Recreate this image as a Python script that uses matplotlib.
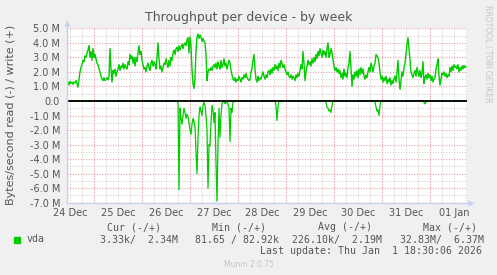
#!/usr/bin/env python
# -*- coding: utf-8 -*-
"""
Munin style "Throughput per device - by week" graph for vda.
"""
import matplotlib
matplotlib.use('Agg')
import numpy as np
import matplotlib.pyplot as plt
from matplotlib.patches import Rectangle

## Data

# One sample every 30 minutes, graph starts 24 Dec 10:30
step_hours = 0.5
first_midnight = 13.5   # hours from start to 25 Dec 00:00
n_days = 8

day_labels = ['24 Dec', '25 Dec', '26 Dec', '27 Dec', '28 Dec',
              '29 Dec', '30 Dec', '31 Dec', '01 Jan']

y_ticks = [-7, -6, -5, -4, -3, -2, -1, 0, 1, 2, 3, 4, 5]
y_tick_labels = ['-7.0 M', '-6.0 M', '-5.0 M', '-4.0 M', '-3.0 M', '-2.0 M',
                 '-1.0 M', '0.0', '1.0 M', '2.0 M', '3.0 M', '4.0 M', '5.0 M']

# Write rate, MB/s (drawn above zero)
write_mb = [
    1.2, 1.3, 1.1, 1.35, 1.2, 1.3, 1.15, 1.3, 1.25, 1.4,
    1.2, 0.95, 1.5, 2.0, 2.3, 2.5, 2.8, 2.7, 3.1, 3.0,
    3.3, 3.5, 3.8, 3.0, 3.4, 2.8, 3.6, 3.0, 3.2, 2.9,
    2.6, 2.5, 2.2, 2.0, 1.7, 1.5, 1.4, 1.6, 1.4, 1.5,
    1.6, 1.45, 1.7, 3.6, 2.2, 1.3, 2.1, 1.9, 2.2, 1.7,
    2.0, 2.2, 2.5, 2.1, 2.4, 2.3, 2.6, 2.2, 2.5, 2.3,
    2.2, 2.7, 2.5, 3.2, 2.9, 3.1, 2.6, 3.0, 2.4, 3.0,
    2.7, 3.3, 3.8, 3.2, 3.4, 2.8, 2.5, 2.2, 2.3, 2.0,
    2.4, 2.6, 2.3, 2.1, 2.6, 2.8, 2.4, 2.7, 2.5, 2.2,
    3.0, 4.0, 2.9, 2.2, 2.4, 2.0, 2.3, 2.6, 2.5, 2.9,
    2.6, 2.3, 2.8, 2.4, 3.0, 2.8, 3.3, 3.5, 3.2, 3.6,
    3.7, 3.4, 3.8, 3.5, 3.7, 3.9, 3.6, 3.9, 4.0, 3.8,
    4.2, 4.35, 3.3, 4.4, 3.8, 2.2, 1.2, 0.85, 1.6, 3.5,
    4.4, 4.6, 4.3, 4.55, 4.4, 4.1, 4.3, 4.1, 4.0, 3.2,
    1.4, 2.0, 2.2, 2.1, 2.3, 2.1, 2.4, 2.5, 2.3, 2.6,
    2.2, 2.7, 2.4, 2.2, 2.8, 2.3, 2.5, 2.9, 2.4, 2.6,
    2.2, 2.5, 2.8, 2.6, 2.1, 1.8, 1.5, 1.4, 1.6, 1.3,
    1.5, 1.4, 1.7, 1.5, 1.3, 1.6, 1.5, 1.8, 1.6, 1.9,
    1.6, 1.5, 1.4, 1.5, 2.0, 2.2, 2.8, 3.2, 2.2, 1.5,
    1.3, 1.7, 1.4, 1.6, 1.5, 1.8, 2.0, 1.7, 1.5, 1.8,
    1.6, 2.0, 2.1, 1.8, 2.2, 1.9, 2.3, 2.1, 2.5, 2.2,
    2.4, 2.1, 2.6, 2.3, 2.8, 2.6, 2.3, 2.5, 2.2, 2.0,
    1.8, 2.0, 1.7, 1.6, 1.8, 1.5, 1.7, 1.6, 1.4, 1.8,
    1.6, 1.9, 1.7, 2.1, 2.5, 2.2, 3.4, 2.6, 1.4, 2.0,
    2.4, 2.8, 2.5, 2.7, 2.4, 2.9, 2.6, 3.0, 2.7, 3.2,
    2.9, 3.4, 3.1, 3.6, 3.3, 3.0, 3.5, 3.2, 3.4, 3.0,
    3.6, 4.0, 3.0, 3.2, 3.6, 3.3, 2.8, 2.4, 2.1, 2.3,
    2.0, 2.2, 1.9, 2.1, 1.6, 1.9, 1.5, 2.2, 1.7, 1.9,
    1.6, 2.3, 2.6, 3.4, 2.2, 1.0, 1.8, 1.5, 2.0, 1.7,
    2.1, 1.6, 2.2, 1.8, 2.3, 1.9, 2.2, 1.7, 1.5, 1.8,
    1.6, 2.0, 2.3, 2.0, 2.6, 2.3, 2.0, 2.4, 2.6, 3.2,
    3.1, 3.0, 2.6, 2.0, 1.5, 1.7, 1.3, 1.6, 1.4, 1.7,
    1.2, 1.5, 1.3, 1.6, 1.1, 1.4, 1.2, 1.5, 1.7, 1.3,
    2.0, 2.8, 1.5, 0.8, 1.4, 2.0, 1.7, 2.3, 2.6, 3.2,
    3.9, 4.35, 3.6, 2.8, 2.0, 1.8, 1.6, 1.9, 2.1, 1.7,
    2.3, 2.0, 1.7, 2.1, 1.6, 1.9, 2.7, 1.2, 1.6, 1.8,
    1.5, 1.9, 1.6, 1.8, 1.4, 1.7, 1.3, 1.5, 1.6, 2.2,
    2.5, 2.9, 1.7, 1.1, 1.5, 1.9, 1.8, 2.0, 1.7, 1.9,
    1.6, 1.8, 1.7, 2.3, 2.0, 2.4, 2.1, 2.5, 2.3, 2.4,
    2.2, 2.5, 2.0, 2.3, 2.1, 2.4, 2.2, 2.45, 2.3, 2.34,
]

# Read rate, MB/s (drawn below zero)
read_mb = [
    0.0, 0.0, 0.0, 0.0, 0.0, 0.0, 0.0, 0.0, 0.0, 0.0, 0.0, 0.0, 0.0, 0.0, 0.0, 0.0, 0.0, 0.0, 0.0, 0.0,
    0.0, 0.0, 0.0, 0.0, 0.0, 0.0, 0.0, 0.0, 0.0, 0.0, 0.0, 0.0, 0.0, 0.0, 0.0, 0.0, 0.0, 0.0, 0.0, 0.0,
    0.0, 0.0, 0.0, 0.0, 0.0, 0.0, 0.0, 0.0, 0.0, 0.0, 0.0, 0.0, 0.0, 0.0, 0.0, 0.0, 0.0, 0.0, 0.0, 0.0,
    0.0, 0.0, 0.0, 0.0, 0.0, 0.0, 0.0, 0.0, 0.0, 0.0, 0.0, 0.0, 0.0, 0.0, 0.0, 0.0, 0.0, 0.0, 0.0, 0.0,
    0.0, 0.0, 0.0, 0.0, 0.0, 0.0, 0.0, 0.0, 0.0, 0.0, 0.0, 0.0, 0.0, 0.0, 0.0, 0.0, 0.0, 0.0, 0.0, 0.0,
    0.0, 0.0, 0.0, 0.0, 0.0, 0.0, 0.0, 0.0, 0.0, 0.0, 0.0, 0.1, 6.1, 0.5, 1.2, 1.6, 1.0, 0.5, 0.8, 1.2,
    0.9, 1.1, 1.5, 2.0, 2.3, 1.6, 1.2, 1.4, 1.8, 3.5, 5.0, 2.5, 1.0, 0.4, 0.7, 1.0, 0.3, 0.1, 0.3, 1.0,
    2.0, 6.0, 3.0, 3.1, 1.5, 0.3, 0.6, 1.5, 0.8, 4.2, 6.9, 3.0, 0.5, 2.5, 1.0, 0.2, 0.1, 0.0, 0.2, 0.1,
    0.1, 0.2, 0.5, 2.8, 0.5, 0.8, 0.1, 0.0, 0.0, 0.0, 0.0, 0.0, 0.0, 0.0, 0.0, 0.0, 0.0, 0.0, 0.0, 0.0,
    0.0, 0.0, 0.0, 0.0, 0.0, 0.0, 0.0, 0.0, 0.0, 0.0, 0.0, 0.0, 0.0, 0.0, 0.0, 0.0, 0.0, 0.0, 0.0, 0.0,
    0.0, 0.0, 0.0, 0.0, 0.0, 0.0, 0.0, 0.0, 0.0, 0.3, 1.35, 0.4, 0.0, 0.0, 0.0, 0.0, 0.0, 0.0, 0.0, 0.0,
    0.0, 0.0, 0.0, 0.0, 0.0, 0.0, 0.0, 0.0, 0.0, 0.0, 0.0, 0.0, 0.0, 0.0, 0.0, 0.0, 0.0, 0.0, 0.0, 0.0,
    0.0, 0.0, 0.0, 0.0, 0.0, 0.0, 0.0, 0.0, 0.0, 0.0, 0.0, 0.0, 0.0, 0.0, 0.0, 0.0, 0.0, 0.0, 0.0, 0.1,
    0.4, 0.5, 0.7, 0.6, 0.8, 0.3, 0.0, 0.0, 0.0, 0.0, 0.0, 0.0, 0.0, 0.0, 0.0, 0.0, 0.0, 0.0, 0.0, 0.0,
    0.0, 0.0, 0.0, 0.0, 0.0, 0.0, 0.0, 0.0, 0.0, 0.0, 0.0, 0.0, 0.0, 0.0, 0.0, 0.0, 0.0, 0.0, 0.0, 0.0,
    0.0, 0.0, 0.0, 0.0, 0.0, 0.0, 0.0, 0.0, 0.1, 0.4, 0.7, 0.6, 1.0, 0.3, 0.0, 0.0, 0.0, 0.0, 0.0, 0.0,
    0.0, 0.0, 0.0, 0.0, 0.0, 0.0, 0.0, 0.0, 0.0, 0.0, 0.0, 0.0, 0.0, 0.0, 0.0, 0.0, 0.0, 0.0, 0.0, 0.0,
    0.0, 0.0, 0.0, 0.0, 0.0, 0.0, 0.0, 0.0, 0.0, 0.0, 0.0, 0.0, 0.0, 0.0, 0.0, 0.0, 0.0, 0.1, 0.2, 0.1,
    0.0, 0.0, 0.0, 0.0, 0.0, 0.0, 0.0, 0.0, 0.0, 0.0, 0.0, 0.0, 0.0, 0.0, 0.0, 0.0, 0.0, 0.0, 0.0, 0.0,
    0.0, 0.0, 0.0, 0.0, 0.0, 0.0, 0.0, 0.0, 0.0, 0.0, 0.0, 0.0, 0.0, 0.0, 0.0, 0.0, 0.0, 0.0, 0.0, 0.0,
]

# Legend table
legend_name = 'vda'
col_headers = ['Cur (-/+)', 'Min (-/+)', 'Avg (-/+)', 'Max (-/+)']
col_values = ['3.33k/  2.34M', '81.65 / 82.92k', '226.10k/  2.19M', '32.83M/  6.37M']
last_update = 'Last update: Thu Jan  1 18:30:06 2026'

## Style
W, H = 497, 275
bg_color = '#f0f0f0'
line_color = '#00cc00'
text_color = '#555555'
minor_grid = '#d4d4d4'
major_grid = '#e6a3a3'
axis_color = '#c8cff0'


def px(x, y):
    """Pixel position (from top left) to figure fraction."""
    return x / W, 1. - y / H


def plot_throughput():
    """
    Draws the munin graph and saves it to out.png
    """
    fig = plt.figure(figsize=(W / 100., H / 100.), dpi=100, facecolor=bg_color)
    # Plot area: x 67..467, y 28.3 (5 M) .. 202.7 (-7 M)
    ax = fig.add_axes([67. / W, 1. - 202.7 / H, 400. / W, 174.4 / H],
                      facecolor='white')

    t = np.arange(len(write_mb)) * step_hours
    total_hours = len(write_mb) * step_hours
    ax.set_xlim(0, total_hours)
    ax.set_ylim(-7, 5)

    # Grid, minor (6 hours / 0.5 M) then major (midnight / 1 M)
    dots = (0, (1, 1.4))
    for h in np.arange(first_midnight % 6, total_hours, 6):
        ax.axvline(h, color=minor_grid, lw=0.8, ls=dots, zorder=1)
    for v in np.arange(-6.5, 5, 1.0):
        ax.axhline(v, color=minor_grid, lw=0.8, ls=dots, zorder=1)
    for h in np.arange(first_midnight, total_hours, 24):
        ax.axvline(h, color=major_grid, lw=0.8, ls=dots, zorder=2)
    for v in y_ticks:
        ax.axhline(v, color=major_grid, lw=0.8, ls=dots, zorder=2)

    # Series
    ax.plot(t, write_mb, color=line_color, lw=1.0, zorder=3)
    ax.plot(t, -np.array(read_mb), color=line_color, lw=0.9, zorder=3)
    ax.axhline(0, color='black', lw=1.3, zorder=4)

    # Axes and ticks
    for s in ax.spines.values():
        s.set_visible(False)
    noons = [first_midnight - 12 + 24 * d for d in range(n_days + 1)]
    ax.set_xticks(noons)
    ax.set_xticklabels(day_labels)
    ax.set_yticks(y_ticks)
    ax.set_yticklabels(y_tick_labels)
    ax.tick_params(axis='x', length=0, pad=3.5, labelsize=7, labelcolor=text_color)
    ax.tick_params(axis='y', length=0, pad=5, labelsize=7, labelcolor=text_color)

    # Axis lines with arrows
    ax.plot([0, 0], [0, 1.03], color=axis_color, lw=1.0, transform=ax.transAxes,
            clip_on=False, zorder=5)
    ax.plot([0], [1.03], marker='^', ms=4.5, color=axis_color, mec='none',
            transform=ax.transAxes, clip_on=False, zorder=5)
    ax.plot([0, 1.01], [0, 0], color=axis_color, lw=1.0, transform=ax.transAxes,
            clip_on=False, zorder=5)
    ax.plot([1.01], [0], marker='>', ms=4.5, color=axis_color, mec='none',
            transform=ax.transAxes, clip_on=False, zorder=5)

    # Titles
    fig.text(*px(248.5, 18), 'Throughput per device - by week', fontsize=9,
             color=text_color, ha='center', va='center')
    fig.text(*px(11, 115), 'Bytes/second read (-) / write (+)', fontsize=8,
             color=text_color, ha='center', va='center', rotation=90)
    fig.text(*px(488, 54), 'RRDTOOL / TOBI OETIKER', fontsize=5.5,
             color='#c4c4c4', ha='center', va='center', rotation=270)

    # Legend
    mono = dict(family='DejaVu Sans Mono', fontsize=7.1, color=text_color,
                va='center', ha='left')
    header_x = [107, 212, 318, 423]
    value_x = [100, 195, 292, 400]
    for x, s in zip(header_x, col_headers):
        fig.text(*px(x, 227.5), s, **mono)
    fig.add_artist(Rectangle(px(14, 242.5), 6. / W, 6. / H, color=line_color,
                             transform=fig.transFigure))
    fig.text(*px(26.5, 239.5), legend_name, **mono)
    for x, s in zip(value_x, col_values):
        fig.text(*px(x, 239.5), s, **mono)
    fig.text(*px(482.5, 251), last_update, **dict(mono, ha='right'))
    fig.text(*px(248.5, 264.5), 'Munin 2.0.75', fontsize=5.5, color='#c4c4c4',
             ha='center', va='center')

    fig.savefig('out.png', dpi=100, facecolor=bg_color)


def main():
    """
    Main function
    """
    plot_throughput()


if __name__ == '__main__':
    main()
